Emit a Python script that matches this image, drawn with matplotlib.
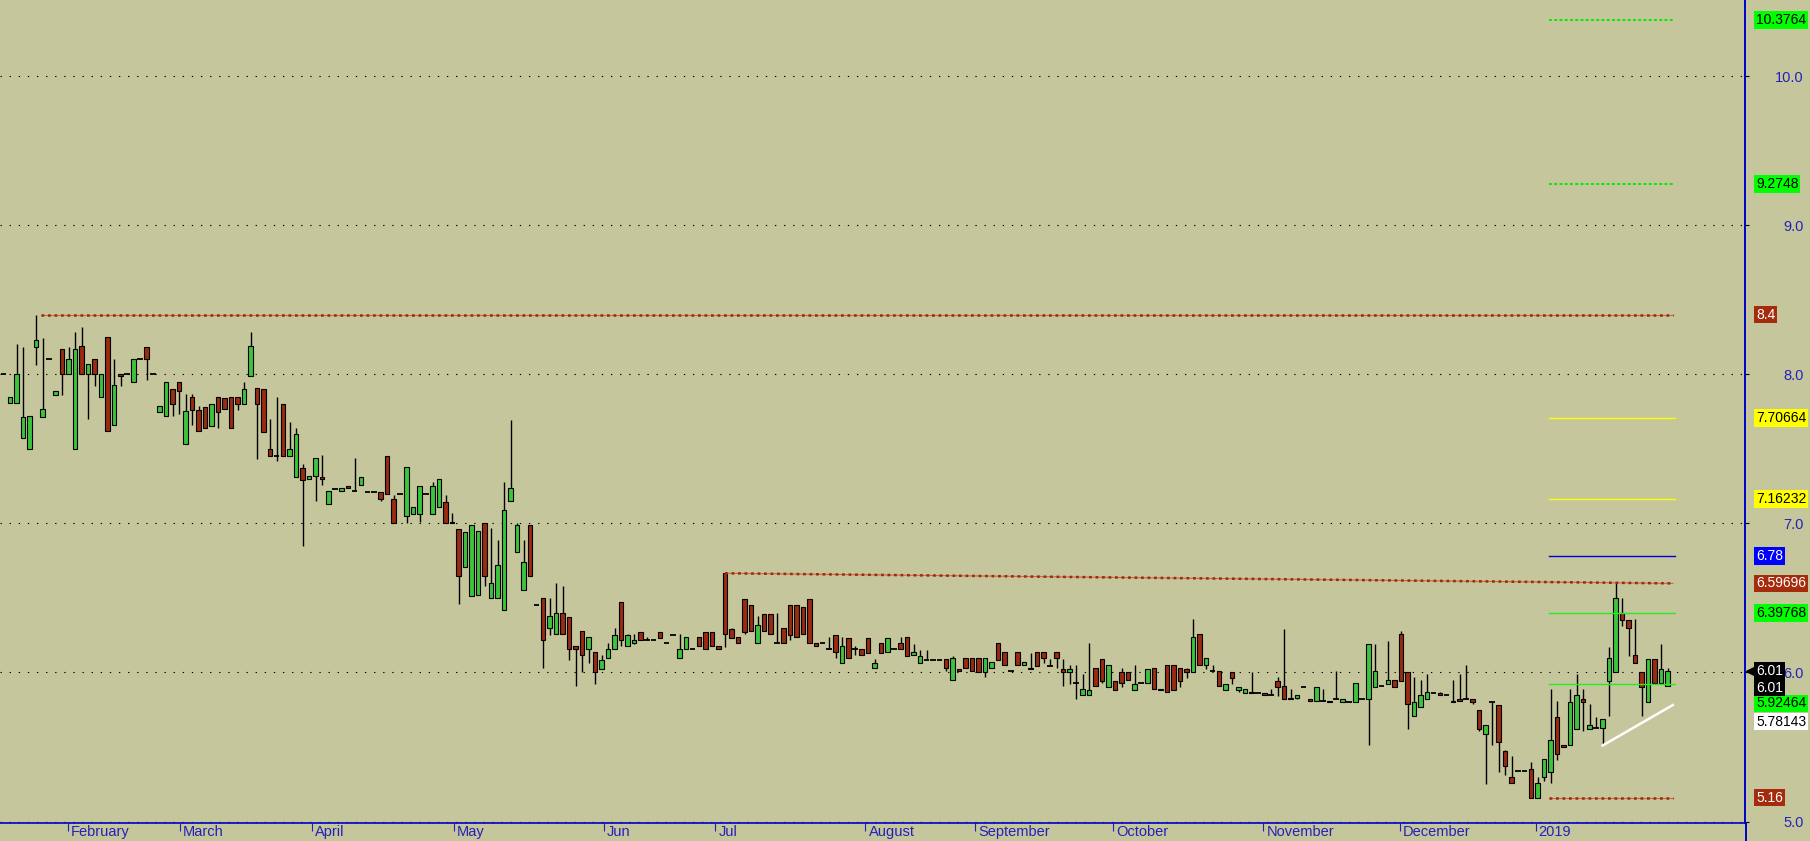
import numpy as np
import matplotlib.pyplot as plt
import matplotlib.transforms as mtransforms

plt.rcParams['font.family'] = ['Liberation Sans', 'DejaVu Sans']

# daily candles (bar index 0..256)
opens = [
    8.00, 7.81, 7.81, 7.57, 7.50, 8.18, 7.71, 8.10, 7.86, 8.17,   # 0
    8.00, 7.50, 8.19, 8.00, 8.10, 7.85, 8.25, 7.66, 8.00, 8.00,   # 10
    7.95, 8.10, 8.18, 8.00, 7.75, 7.72, 7.90, 7.95, 7.53, 7.85,   # 20
    7.76, 7.78, 7.65, 7.85, 7.84, 7.85, 7.85, 7.80, 7.99, 7.91,   # 30
    7.90, 7.50, 7.45, 7.80, 7.45, 7.31, 7.37, 7.30, 7.32, 7.31,   # 40
    7.13, 7.23, 7.22, 7.25, 7.22, 7.26, 7.21, 7.21, 7.21, 7.45,   # 50
    7.16, 7.20, 7.05, 7.06, 7.06, 7.20, 7.06, 7.11, 7.14, 7.01,   # 60
    6.96, 6.71, 6.51, 6.52, 7.00, 6.50, 6.50, 6.42, 7.15, 6.81,   # 70
    6.55, 6.99, 6.45, 6.50, 6.30, 6.26, 6.40, 6.37, 6.18, 6.28,   # 80
    6.16, 6.14, 6.02, 6.10, 6.16, 6.47, 6.18, 6.20, 6.27, 6.22,   # 90
    6.22, 6.27, 6.20, 6.25, 6.10, 6.16, 6.16, 6.24, 6.27, 6.27,   # 100
    6.18, 6.67, 6.29, 6.24, 6.49, 6.45, 6.20, 6.39, 6.39, 6.20,   # 110
    6.30, 6.45, 6.45, 6.44, 6.49, 6.20, 6.20, 6.16, 6.25, 6.06,   # 120
    6.23, 6.16, 6.16, 6.23, 6.03, 6.20, 6.14, 6.16, 6.20, 6.24,   # 130
    6.12, 6.06, 6.08, 6.08, 6.08, 6.09, 5.95, 6.02, 6.10, 6.10,   # 140
    6.10, 6.00, 6.03, 6.20, 6.14, 6.01, 6.14, 6.05, 6.02, 6.14,   # 150
    6.14, 6.04, 6.14, 6.02, 6.00, 5.93, 5.85, 5.85, 6.03, 6.09,   # 160
    5.90, 5.94, 6.00, 6.00, 5.88, 5.93, 5.93, 6.03, 5.88, 6.05,   # 170
    6.05, 6.03, 6.02, 6.00, 6.26, 6.05, 6.01, 6.01, 5.88, 6.00,   # 180
    5.88, 5.86, 5.87, 5.86, 5.86, 5.85, 5.94, 5.91, 5.82, 5.83,   # 190
    5.90, 5.82, 5.81, 5.81, 5.80, 5.82, 5.80, 5.80, 5.80, 5.82,   # 200
    5.82, 5.90, 5.91, 5.92, 5.95, 6.26, 6.00, 5.71, 5.77, 5.82,   # 210
    5.86, 5.86, 5.85, 5.80, 5.82, 5.82, 5.82, 5.75, 5.59, 5.80,   # 220
    5.78, 5.47, 5.30, 5.34, 5.34, 5.35, 5.16, 5.30, 5.33, 5.70,   # 230
    5.51, 5.51, 5.62, 5.82, 5.62, 5.63, 5.63, 5.94, 6.00, 6.40,   # 240
    6.35, 6.12, 6.00, 5.80, 6.09, 5.93, 5.91,                     # 250
]
highs = [
    8.00, 7.85, 8.20, 8.18, 7.72, 8.40, 8.24, 8.10, 7.89, 8.17,
    8.18, 8.28, 8.32, 8.07, 8.10, 8.00, 8.25, 8.10, 8.00, 8.00,
    8.10, 8.10, 8.18, 8.00, 7.79, 7.95, 7.90, 7.95, 7.87, 7.87,
    7.79, 7.78, 7.80, 7.85, 7.84, 7.85, 7.85, 7.95, 8.28, 7.91,
    7.90, 7.70, 7.85, 7.80, 7.68, 7.64, 7.40, 7.32, 7.44, 7.46,
    7.22, 7.23, 7.24, 7.25, 7.44, 7.31, 7.21, 7.21, 7.21, 7.45,
    7.19, 7.20, 7.38, 7.11, 7.25, 7.20, 7.28, 7.30, 7.19, 7.07,
    6.96, 6.94, 6.99, 6.95, 7.00, 6.97, 6.89, 7.28, 7.69, 7.00,
    6.89, 6.99, 6.45, 6.50, 6.50, 6.60, 6.58, 6.37, 6.18, 6.28,
    6.24, 6.14, 6.12, 6.20, 6.30, 6.47, 6.26, 6.26, 6.27, 6.24,
    6.22, 6.27, 6.20, 6.25, 6.26, 6.24, 6.16, 6.24, 6.27, 6.27,
    6.18, 6.67, 6.30, 6.24, 6.49, 6.45, 6.38, 6.39, 6.39, 6.40,
    6.30, 6.45, 6.45, 6.44, 6.49, 6.20, 6.20, 6.24, 6.25, 6.24,
    6.23, 6.18, 6.16, 6.23, 6.09, 6.20, 6.23, 6.16, 6.24, 6.24,
    6.19, 6.15, 6.15, 6.08, 6.08, 6.09, 6.11, 6.02, 6.10, 6.10,
    6.10, 6.10, 6.07, 6.20, 6.14, 6.01, 6.14, 6.07, 6.13, 6.14,
    6.14, 6.09, 6.14, 6.09, 6.05, 6.05, 5.99, 6.20, 6.03, 6.09,
    6.05, 5.94, 6.03, 6.00, 6.05, 5.93, 6.02, 6.03, 5.89, 6.05,
    6.05, 6.03, 6.03, 6.36, 6.26, 6.10, 6.05, 6.01, 5.92, 6.00,
    5.90, 5.89, 6.00, 5.86, 5.86, 5.89, 5.97, 6.29, 5.89, 5.85,
    5.90, 5.82, 5.90, 5.89, 5.81, 6.01, 5.82, 5.80, 5.93, 5.82,
    6.19, 6.19, 5.91, 6.21, 5.95, 6.28, 6.00, 5.97, 5.95, 5.99,
    5.86, 5.87, 5.85, 5.95, 5.99, 6.05, 5.82, 5.75, 5.65, 5.80,
    5.78, 5.48, 5.44, 5.34, 5.34, 5.40, 5.30, 5.42, 5.89, 5.81,
    5.51, 5.89, 5.99, 5.89, 5.79, 5.70, 5.69, 6.17, 6.60, 6.50,
    6.35, 6.36, 6.00, 6.09, 6.09, 6.19, 6.03,
]
lows = [
    8.00, 7.81, 7.81, 7.57, 7.50, 8.06, 7.71, 8.10, 7.86, 7.86,
    8.00, 7.50, 8.00, 7.70, 7.92, 7.85, 7.62, 7.66, 7.92, 8.00,
    7.95, 8.10, 7.96, 8.00, 7.75, 7.72, 7.72, 7.73, 7.53, 7.66,
    7.62, 7.64, 7.65, 7.64, 7.77, 7.64, 7.76, 7.80, 7.99, 7.43,
    7.61, 7.45, 7.42, 7.45, 7.45, 7.31, 6.85, 7.30, 7.15, 7.26,
    7.13, 7.23, 7.22, 7.24, 7.22, 7.26, 7.21, 7.21, 7.15, 7.20,
    7.00, 7.20, 7.00, 7.06, 7.01, 7.20, 7.06, 7.11, 7.00, 7.00,
    6.46, 6.71, 6.51, 6.52, 6.58, 6.50, 6.50, 6.42, 7.15, 6.81,
    6.55, 6.65, 6.45, 6.03, 6.25, 6.26, 6.26, 6.08, 5.91, 6.00,
    6.06, 5.92, 6.02, 6.10, 6.16, 6.18, 6.18, 6.19, 6.22, 6.22,
    6.22, 6.23, 6.20, 6.25, 6.10, 6.16, 6.16, 6.18, 6.16, 6.18,
    6.16, 6.17, 6.23, 6.20, 6.26, 6.28, 6.20, 6.28, 6.26, 6.20,
    6.20, 6.22, 6.24, 6.26, 6.20, 6.18, 6.20, 6.16, 6.10, 6.06,
    6.10, 6.12, 6.12, 6.13, 6.03, 6.13, 6.14, 6.16, 6.16, 6.11,
    6.12, 6.06, 6.08, 6.08, 6.08, 6.01, 5.95, 6.01, 6.03, 6.01,
    6.00, 5.97, 6.03, 6.08, 6.05, 6.01, 6.05, 6.05, 6.02, 6.04,
    6.06, 6.04, 6.03, 5.91, 5.92, 5.82, 5.85, 5.85, 5.91, 5.93,
    5.90, 5.88, 5.90, 5.95, 5.88, 5.93, 5.93, 5.89, 5.88, 5.87,
    5.88, 5.90, 5.96, 6.00, 6.05, 6.02, 6.01, 5.91, 5.88, 5.92,
    5.87, 5.86, 5.86, 5.86, 5.85, 5.85, 5.84, 5.82, 5.82, 5.82,
    5.90, 5.81, 5.81, 5.81, 5.80, 5.82, 5.80, 5.80, 5.80, 5.82,
    5.51, 5.90, 5.91, 5.92, 5.90, 5.94, 5.62, 5.71, 5.77, 5.82,
    5.86, 5.85, 5.85, 5.80, 5.81, 5.82, 5.79, 5.61, 5.25, 5.51,
    5.33, 5.31, 5.26, 5.34, 5.34, 5.16, 5.16, 5.27, 5.26, 5.41,
    5.50, 5.51, 5.62, 5.61, 5.62, 5.63, 5.51, 5.71, 6.00, 6.31,
    6.11, 6.06, 5.71, 5.80, 5.93, 5.93, 5.91,
]
closes = [
    8.00, 7.85, 8.00, 7.71, 7.72, 8.23, 7.77, 8.10, 7.89, 8.00,
    8.10, 8.17, 8.00, 8.07, 8.00, 8.00, 7.62, 7.93, 7.99, 8.00,
    8.10, 8.10, 8.10, 8.00, 7.79, 7.95, 7.80, 7.89, 7.75, 7.76,
    7.62, 7.64, 7.80, 7.75, 7.77, 7.64, 7.80, 7.90, 8.19, 7.80,
    7.61, 7.45, 7.45, 7.45, 7.50, 7.60, 7.29, 7.32, 7.44, 7.30,
    7.22, 7.23, 7.24, 7.24, 7.22, 7.31, 7.21, 7.21, 7.16, 7.20,
    7.00, 7.20, 7.38, 7.11, 7.25, 7.20, 7.25, 7.30, 7.00, 7.00,
    6.65, 6.94, 6.99, 6.95, 6.65, 6.60, 6.72, 7.09, 7.24, 6.99,
    6.74, 6.65, 6.45, 6.22, 6.38, 6.40, 6.26, 6.16, 6.16, 6.12,
    6.24, 6.00, 6.08, 6.16, 6.25, 6.22, 6.25, 6.22, 6.22, 6.22,
    6.22, 6.23, 6.20, 6.25, 6.16, 6.24, 6.16, 6.18, 6.16, 6.18,
    6.16, 6.26, 6.23, 6.20, 6.27, 6.28, 6.32, 6.28, 6.26, 6.20,
    6.20, 6.25, 6.24, 6.26, 6.20, 6.18, 6.20, 6.16, 6.14, 6.18,
    6.10, 6.16, 6.12, 6.13, 6.06, 6.13, 6.23, 6.16, 6.16, 6.11,
    6.14, 6.11, 6.08, 6.08, 6.08, 6.03, 6.10, 6.01, 6.03, 6.01,
    6.00, 6.10, 6.07, 6.08, 6.05, 6.01, 6.05, 6.07, 6.03, 6.04,
    6.10, 6.04, 6.10, 6.00, 6.02, 5.93, 5.89, 5.88, 5.91, 5.94,
    6.05, 5.88, 5.93, 5.95, 5.92, 5.93, 6.02, 5.89, 5.89, 5.87,
    5.88, 5.94, 6.00, 6.24, 6.05, 6.10, 6.01, 5.91, 5.92, 5.96,
    5.90, 5.89, 5.86, 5.86, 5.85, 5.85, 5.90, 5.82, 5.83, 5.85,
    5.90, 5.81, 5.90, 5.81, 5.81, 5.82, 5.82, 5.80, 5.93, 5.82,
    6.19, 6.01, 5.91, 5.95, 5.90, 5.94, 5.79, 5.80, 5.85, 5.87,
    5.86, 5.85, 5.85, 5.81, 5.81, 5.82, 5.80, 5.62, 5.65, 5.80,
    5.53, 5.37, 5.26, 5.34, 5.34, 5.16, 5.26, 5.42, 5.55, 5.45,
    5.50, 5.80, 5.85, 5.80, 5.65, 5.63, 5.69, 6.10, 6.50, 6.35,
    6.30, 6.06, 5.90, 6.09, 5.93, 6.02, 6.01,
]

# month labels and the bar position where each month starts
month_names = ['February', 'March', 'April', 'May', 'Jun', 'Jul', 'August',
               'September', 'October', 'November', 'December', '2019']
month_pos = [9.9, 27.1, 47.4, 69.3, 92.4, 109.5, 132.6, 149.5, 170.7, 193.8, 214.8, 235.7]

price_ticks = [5.0, 6.0, 7.0, 8.0, 9.0, 10.0]

# drawn studies
top_level, top_start = 8.4, 5.8
trend_start, trend_end = (111, 6.665), (256.8, 6.597)
low_level, low_start = 5.16, 237.8
proj_levels_dash = [10.3764, 9.2748]
proj_levels_yellow = [7.70664, 7.16232]
proj_levels_green = [6.39768, 5.92464]
blue_level = 6.78
proj_range = (237.8, 257.2)
white_start, white_end = (246, 5.51), (256.8, 5.78143)
last_price = 6.01

bg = '#c5c69b'
blue = '#2222bb'

fig = plt.figure(figsize=(18.10, 8.41), dpi=100, facecolor=bg)
ax = fig.add_axes([0, 18 / 841, 1745 / 1810, 823 / 841], facecolor=bg)
ax.set_xlim(-0.54, 267.9)
ax.set_ylim(4.99, 10.51)

for v in price_ticks:
    ax.axhline(v, color='black', lw=0.8, ls=(0, (1.2, 7)), zorder=1)

o = np.array(opens)
h = np.array(highs)
l = np.array(lows)
c = np.array(closes)
x = np.arange(len(o))

ax.vlines(x, l, h, color='black', lw=1.0, zorder=2)
up = c > o
dn = c < o
fl = c == o
ax.bar(x[up], (c - o)[up], bottom=o[up], width=0.66, color='#3cc43c',
       edgecolor='black', lw=0.8, zorder=3)
ax.bar(x[dn], (o - c)[dn], bottom=c[dn], width=0.66, color='#9a2a10',
       edgecolor='black', lw=0.8, zorder=3)
ax.hlines(o[fl], x[fl] - 0.42, x[fl] + 0.42, color='black', lw=1.3, zorder=3)


def red_dots(xs, ys):
    ax.plot(xs, ys, color='#d0623c', lw=0.8, zorder=4)
    ax.plot(xs, ys, color='#9a2a10', lw=1.8, ls=(0, (1.1, 1.5)), zorder=4,
            solid_capstyle='butt', dash_capstyle='butt')


red_dots([top_start, trend_end[0]], [top_level, top_level])
red_dots([trend_start[0], trend_end[0]], [trend_start[1], trend_end[1]])
red_dots([low_start, trend_end[0]], [low_level, low_level])

for v in proj_levels_dash:
    ax.plot(proj_range, [v, v], color='#00ee00', lw=1.4, ls=(0, (1.5, 1.2)), zorder=4)
for v in proj_levels_yellow:
    ax.plot(proj_range, [v, v], color='#ffff00', lw=1.0, zorder=4)
for v in proj_levels_green:
    ax.plot(proj_range, [v, v], color='#22ee22', lw=1.0, zorder=4)
ax.plot(proj_range, [blue_level, blue_level], color='#0000dd', lw=1.0, zorder=4)
ax.plot([white_start[0], white_end[0]], [white_start[1], white_end[1]],
        color='white', lw=1.8, zorder=4)

# axes frame
for s in ['top', 'left']:
    ax.spines[s].set_visible(False)
ax.spines['right'].set_color('#0000c8')
ax.spines['right'].set_linewidth(1.4)
ax.spines['bottom'].set_color('#0000c8')
ax.spines['bottom'].set_linewidth(1.2)
fig.add_artist(plt.Line2D([1745.5 / 1810, 1745.5 / 1810], [0, 18 / 841],
                          color='#0000c8', lw=1.4))

ax.yaxis.tick_right()
ax.set_yticks(price_ticks)
ax.set_yticklabels(['%.1f' % v for v in price_ticks])
ax.tick_params(axis='y', direction='out', length=3, color='black',
               labelcolor=blue, labelsize=10.5, pad=39)
for t in ax.get_yticklabels():
    t.set_ha('right')

ax.set_xticks(month_pos)
ax.set_xticklabels([])
ax.tick_params(axis='x', direction='out', length=6, color=blue, width=0.8)
xtr = mtransforms.blended_transform_factory(ax.transData, ax.transAxes)
xtr = mtransforms.offset_copy(xtr, fig=fig, x=3, y=-2, units='dots')
for p, name in zip(month_pos, month_names):
    ax.text(p, 0, name, transform=xtr, ha='left', va='top', color=blue,
            fontsize=10.5, clip_on=False)

# right-hand value tags
ytr = mtransforms.blended_transform_factory(ax.transAxes, ax.transData)
tx = 1756 / 1745


def tag(y, s, fc, tc):
    ax.text(tx, y, s, transform=ytr, ha='left', va='center', fontsize=10,
            color=tc, clip_on=False, zorder=6,
            bbox=dict(boxstyle='square,pad=0.12', fc=fc, ec='none'))


tag(10.3764, '10.3764', '#00ff00', 'black')
tag(9.2748, '9.2748', '#00ff00', 'black')
tag(8.4, '8.4', '#a42c0c', 'white')
tag(7.70664, '7.70664', '#ffff00', 'black')
tag(7.16232, '7.16232', '#ffff00', 'black')
tag(6.78, '6.78', '#0000ff', 'white')
tag(6.59696, '6.59696', '#a42c0c', 'white')
tag(6.39768, '6.39768', '#00ff00', 'black')
tag(5.793, '5.92464', '#00ff00', 'black')
tag(5.669, '5.78143', 'white', 'black')
tag(5.16, '5.16', '#a42c0c', 'white')
ax.text(tx, 5.953, '%.2f\n%.2f' % (last_price, last_price), transform=ytr,
        ha='left', va='center', fontsize=10, color='white', clip_on=False,
        zorder=6, linespacing=1.25,
        bbox=dict(boxstyle='square,pad=0.12', fc='black', ec='none'))
ax.plot([1750.5 / 1745], [last_price], marker='<', ms=7, color='black',
        transform=ytr, clip_on=False, zorder=5)

fig.savefig('out.png', dpi=100, facecolor=bg)
